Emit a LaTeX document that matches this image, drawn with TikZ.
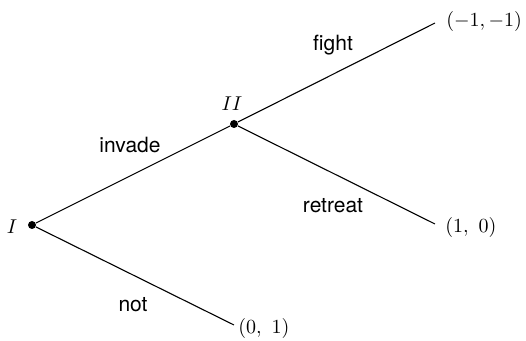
\documentclass[tikz,border=0pt]{standalone}
\usepackage{fontspec}
\setsansfont{TeX Gyre Heros}
\begin{document}
\begin{tikzpicture}[x=0.5pt,y=-0.5pt,
  dot/.style={circle,fill=black,inner sep=0pt,minimum size=4pt},
  edge/.style={line width=0.55pt},
  lbl/.style={font=\sffamily\fontsize{10.5}{12}\selectfont,inner sep=0pt},
  pay/.style={inner sep=0pt,anchor=west,font=\fontsize{10}{12}\selectfont}]
\useasboundingbox (0,0) rectangle (526,341);
\node[dot] (I) at (32,225) {};
\node[dot] (II) at (234,124) {};
\coordinate (F) at (435,23);
\coordinate (R) at (435,224);
\coordinate (N) at (234,325);
\draw[edge] (I) -- (II);
\draw[edge] (II) -- (F);
\draw[edge] (II) -- (R);
\draw[edge] (I) -- (N);
\node[inner sep=0pt] (lI) at (12,227) {$I$};
\node[inner sep=0pt] (lII) at (232,104) {$II$};
\node[pay] (pF) at (446,22) {$(-1,-1)$};
\node[pay] (pR) at (445,228) {$(1,\ 0)$};
\node[pay] (pN) at (238,329) {$(0,\ 1)$};
\node[lbl] (tF) at (333,45) {fight};
\node[lbl] (tI) at (130,145) {invade};
\node[lbl] (tR) at (333,206) {retreat};
\node[lbl] (tN) at (133,305) {not};
\end{tikzpicture}
\end{document}
